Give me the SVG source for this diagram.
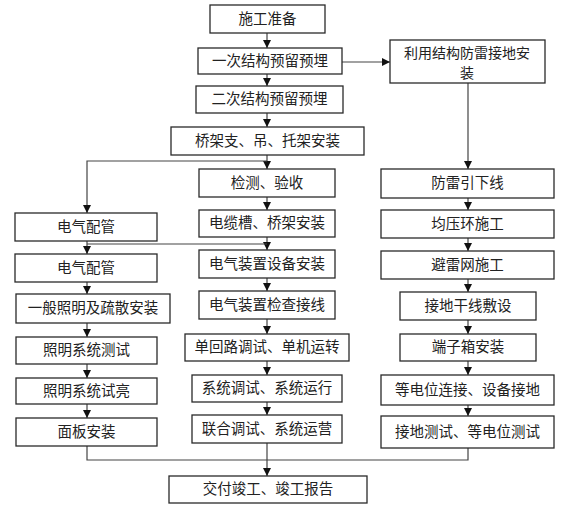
<svg xmlns="http://www.w3.org/2000/svg" width="574" height="512" viewBox="0 0 574 512">
<style>
.b rect{fill:#fff;stroke:#2a2a2a;stroke-width:1.3}
.b text{font-family:"Noto Sans CJK SC","Noto Sans",sans-serif;font-size:14.5px;fill:#222;text-anchor:middle}
.c path{fill:none;stroke:#444;stroke-width:1.2}
</style>
<defs>
<marker id="ah" markerUnits="userSpaceOnUse" markerWidth="8" markerHeight="8" refX="8" refY="4" orient="auto">
<path d="M0,0 L8,4 L0,8 z" fill="#111"/>
</marker>
</defs>
<rect width="574" height="512" fill="#fff"/>
<g class="c">
<path d="M267,33 V48" marker-end="url(#ah)"/>
<path d="M267,74 V86" marker-end="url(#ah)"/>
<path d="M267,113 V127" marker-end="url(#ah)"/>
<path d="M342,62 H390" marker-end="url(#ah)"/>
<path d="M468,83 V169" marker-end="url(#ah)"/>
<path d="M267,155 V169" marker-end="url(#ah)"/>
<path d="M267,161 H87 V213" marker-end="url(#ah)"/>
<path d="M267,197 V210" marker-end="url(#ah)"/>
<path d="M267,237 V250" marker-end="url(#ah)"/>
<path d="M87,244 H267"/>
<path d="M87,241 V254" marker-end="url(#ah)"/>
<path d="M87,282 V294" marker-end="url(#ah)"/>
<path d="M87,323 V337" marker-end="url(#ah)"/>
<path d="M87,364 V378" marker-end="url(#ah)"/>
<path d="M87,404 V418" marker-end="url(#ah)"/>
<path d="M267,278 V291" marker-end="url(#ah)"/>
<path d="M267,319 V334" marker-end="url(#ah)"/>
<path d="M267,361 V375" marker-end="url(#ah)"/>
<path d="M267,402 V415" marker-end="url(#ah)"/>
<path d="M468,198 V210" marker-end="url(#ah)"/>
<path d="M468,238 V251" marker-end="url(#ah)"/>
<path d="M468,279 V292" marker-end="url(#ah)"/>
<path d="M468,320 V334" marker-end="url(#ah)"/>
<path d="M468,361 V375" marker-end="url(#ah)"/>
<path d="M468,405 V416" marker-end="url(#ah)"/>
<path d="M87,446 V460 H468 V448"/>
<path d="M267,443 V476" marker-end="url(#ah)"/>
</g>
<g id="n1" class="b"><rect x="210" y="5" width="115" height="28"/><text x="267.5" y="24">施工准备</text></g>
<g id="n2" class="b"><rect x="198" y="48" width="144" height="26"/><text x="270" y="66">一次结构预留预埋</text></g>
<g id="n3" class="b"><rect x="196" y="86" width="147" height="27"/><text x="269.5" y="104">二次结构预留预埋</text></g>
<g id="n4" class="b"><rect x="171" y="127" width="193" height="28"/><text x="267.5" y="146">桥架支、吊、托架安装</text></g>
<g id="n5" class="b"><rect x="199" y="169" width="136" height="28"/><text x="267" y="188">检测、验收</text></g>
<g id="n6" class="b"><rect x="199" y="210" width="136" height="27"/><text x="267" y="228">电缆槽、桥架安装</text></g>
<g id="n7" class="b"><rect x="199" y="250" width="136" height="28"/><text x="267" y="269">电气装置设备安装</text></g>
<g id="n8" class="b"><rect x="199" y="291" width="136" height="28"/><text x="267" y="310">电气装置检查接线</text></g>
<g id="n9" class="b"><rect x="185" y="334" width="164" height="27"/><text x="267" y="352">单回路调试、单机运转</text></g>
<g id="n10" class="b"><rect x="192" y="375" width="150" height="27"/><text x="267" y="393">系统调试、系统运行</text></g>
<g id="n11" class="b"><rect x="192" y="415" width="150" height="28"/><text x="267" y="434">联合调试、系统运营</text></g>
<g id="n12" class="b"><rect x="169" y="476" width="198" height="27"/><text x="268" y="494">交付竣工、竣工报告</text></g>
<g id="l1" class="b"><rect x="15" y="213" width="142" height="28"/><text x="86" y="232">电气配管</text></g>
<g id="l2" class="b"><rect x="15" y="254" width="142" height="28"/><text x="86" y="273">电气配管</text></g>
<g id="l3" class="b"><rect x="16" y="294" width="154" height="29"/><text x="93" y="313">一般照明及疏散安装</text></g>
<g id="l4" class="b"><rect x="16" y="337" width="141" height="27"/><text x="86.5" y="355">照明系统测试</text></g>
<g id="l5" class="b"><rect x="16" y="378" width="141" height="26"/><text x="86.5" y="396">照明系统试亮</text></g>
<g id="l6" class="b"><rect x="16" y="418" width="141" height="28"/><text x="86.5" y="437">面板安装</text></g>
<g id="r1" class="b"><rect x="390" y="40" width="155" height="43"/><text x="467" y="58" style="font-size:14px">利用结构防雷接地安</text><text x="467" y="78" style="font-size:14px">装</text></g>
<g id="r2" class="b"><rect x="381" y="169" width="173" height="29"/><text x="467.5" y="188">防雷引下线</text></g>
<g id="r3" class="b"><rect x="381" y="210" width="173" height="28"/><text x="467.5" y="229">均压环施工</text></g>
<g id="r4" class="b"><rect x="381" y="251" width="173" height="28"/><text x="467.5" y="270">避雷网施工</text></g>
<g id="r5" class="b"><rect x="400" y="292" width="136" height="28"/><text x="468" y="311">接地干线敷设</text></g>
<g id="r6" class="b"><rect x="400" y="334" width="136" height="27"/><text x="468" y="352">端子箱安装</text></g>
<g id="r7" class="b"><rect x="381" y="375" width="173" height="30"/><text x="467.5" y="395">等电位连接、设备接地</text></g>
<g id="r8" class="b"><rect x="381" y="416" width="173" height="32"/><text x="467.5" y="437">接地测试、等电位测试</text></g>
</svg>
